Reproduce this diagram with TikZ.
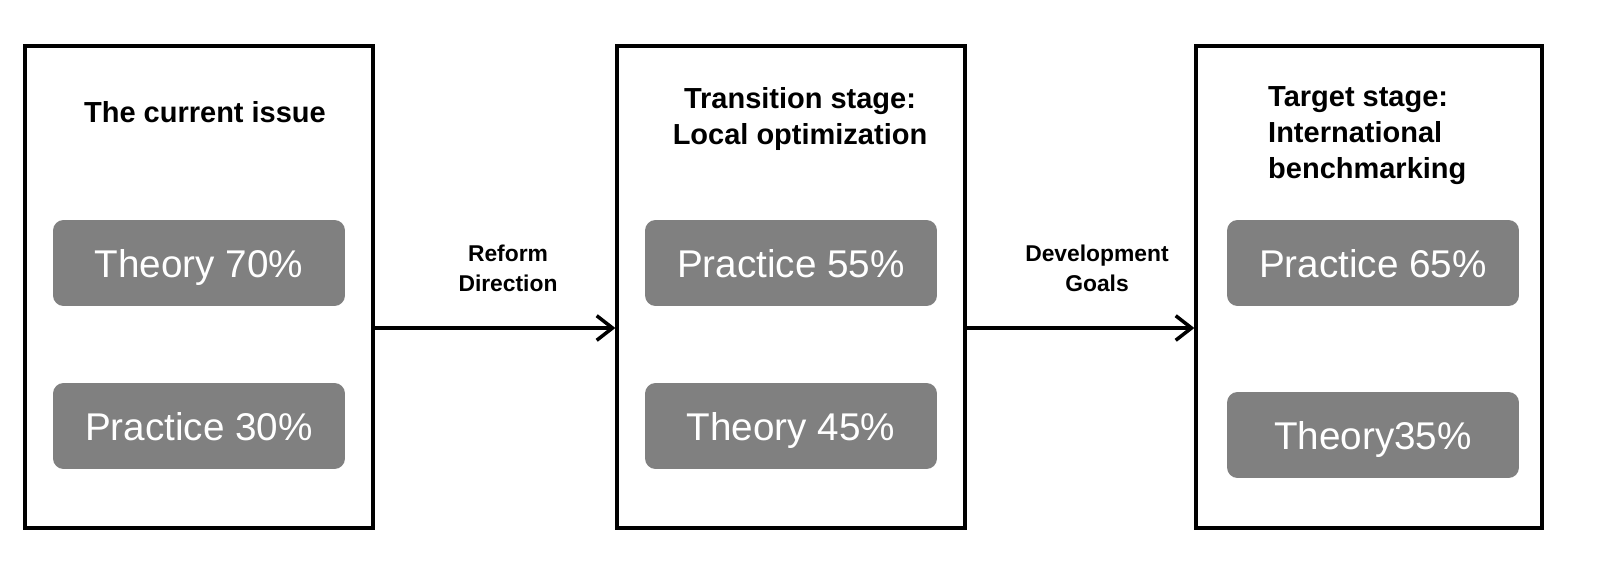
\documentclass[tikz,border=0pt]{standalone}
\usepackage{fontspec}
\setmainfont{Liberation Sans}
\usetikzlibrary{arrows.meta}
\begin{document}
\begin{tikzpicture}[x=0.02cm,y=-0.02cm,
  frame/.style={draw=black,line width=1.9pt,fill=white},
  pill/.style={draw=none,fill=gray,rounded corners=6pt,text=white,font=\fontsize{22}{26}\selectfont},
  title/.style={font=\bfseries\fontsize{16.5}{20.5}\selectfont,align=center},
  lab/.style={font=\bfseries\fontsize{13}{17}\selectfont,align=center},
  conn/.style={line width=2pt,-{Straight Barb[length=9pt,width=14pt,line width=2pt]}}]
\node[frame,minimum width=6.96cm,minimum height=9.64cm] (b1) at (199,287) {};
\node[frame,minimum width=6.96cm,minimum height=9.64cm] (b2) at (791,287) {};
\node[frame,minimum width=6.92cm,minimum height=9.64cm] (b3) at (1369,287) {};
\node[title] (t1) at (205,112) {The current issue};
\node[title] (t2) at (800,119) {Transition stage:\\Local optimization};
\node[title,align=left,anchor=west] (t3) at (1262,136) {Target stage:\\International\\benchmarking};
\foreach \n/\x/\y/\t in {p1/199/263/Theory 70\%, p2/199/426/Practice 30\%, p3/791/263/Practice 55\%, p4/791/426/Theory 45\%, p5/1373/263/Practice 65\%, p6/1373/435/Theory35\%}
  \node[pill,minimum width=5.84cm,minimum height=1.72cm,text depth=0pt,text height=16pt] (\n) at (\x,\y) {\t};
\coordinate (ay) at (0,328);
\draw[conn] (b1.east |- ay) -- (b2.west |- ay);
\draw[conn] (b2.east |- ay) -- (b3.west |- ay);
\node[lab] (l1) at (508,268) {Reform\\Direction};
\node[lab] (l2) at (1097,268) {Development\\Goals};
\pgfresetboundingbox
\path[use as bounding box] (0,0) rectangle (1612,580);
\end{tikzpicture}
\end{document}
